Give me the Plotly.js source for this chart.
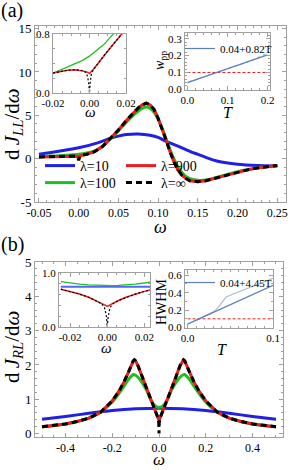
<!DOCTYPE html>
<html><head><meta charset="utf-8">
<script src="https://cdn.plot.ly/plotly-3.0.1.min.js"></script>
<style>html,body{margin:0;padding:0;background:#fff}#c{width:291px;height:470px}</style>
</head><body><div id="c"></div>
<script>
// ---------- Panel (a) main: dJ_LL/dω ----------
const wA10 = [-0.05,-0.025,0,0.025,0.04,0.05,0.06,0.075,0.09,0.1,0.11,0.125,0.14,0.15,0.16,0.175,0.2,0.225,0.25];
const jA10 = [0.5,0.85,1.25,1.85,2.35,2.6,2.78,2.85,2.7,2.45,2.0,1.45,0.85,0.5,0.15,-0.3,-0.65,-0.8,-0.85];
const wA100 = [-0.05,-0.04,-0.03,-0.02,-0.01,0,0.01,0.02,0.03,0.04,0.05,0.06,0.07,0.075,0.08,0.085,0.09,0.095,0.1,0.105,0.11,0.115,0.12,0.125,0.13,0.135,0.14,0.15,0.16,0.17,0.18,0.19,0.2,0.21,0.22,0.23,0.24,0.25];
const jA100 = [0.25,0.28,0.32,0.36,0.42,0.5,0.65,0.9,1.45,2.3,3.2,4.2,5.1,5.5,5.8,5.95,5.8,5.35,4.55,3.5,2.3,1.05,-0.05,-0.95,-1.6,-2.05,-2.3,-2.5,-2.45,-2.25,-2.0,-1.75,-1.5,-1.3,-1.15,-1.0,-0.9,-0.8];
const wAinf = [-0.05,-0.04,-0.03,-0.02,-0.01,-0.004,-0.0015,0,0.0015,0.004,0.01,0.02,0.03,0.04,0.05,0.06,0.07,0.075,0.08,0.085,0.09,0.095,0.1,0.105,0.11,0.115,0.12,0.125,0.13,0.135,0.14,0.15,0.16,0.17,0.18,0.19,0.2,0.21,0.22,0.23,0.24,0.25];
const jA900 = [0.2,0.22,0.25,0.28,0.3,0.3,0.28,0.22,0.28,0.38,0.5,0.8,1.4,2.3,3.3,4.4,5.4,5.85,6.2,6.4,6.2,5.65,4.65,3.45,2.15,0.8,-0.4,-1.3,-1.9,-2.3,-2.55,-2.65,-2.55,-2.3,-2.05,-1.8,-1.55,-1.35,-1.15,-1.0,-0.9,-0.8];
const jAinf = [0.2,0.22,0.25,0.28,0.3,0.3,0.2,-0.2,0.25,0.38,0.5,0.8,1.4,2.3,3.3,4.4,5.4,5.85,6.2,6.4,6.2,5.65,4.65,3.45,2.15,0.8,-0.4,-1.3,-1.9,-2.3,-2.55,-2.65,-2.55,-2.3,-2.05,-1.8,-1.55,-1.35,-1.15,-1.0,-0.9,-0.8];

// ---------- Inset (a) left: zoom near ω = 0 ----------
const wI1 = [-0.02,-0.016,-0.012,-0.008,-0.004,-0.002,-0.001,-0.0004,0,0.0004,0.001,0.002,0.004,0.008,0.012,0.016,0.018,0.02];
const jI1_100 = [0.27,0.31,0.35,0.39,0.44,0.47,0.48,0.49,0.5,0.51,0.52,0.54,0.58,0.66,0.76,0.88,0.94,1.0];
const jI1_900 = [0.27,0.29,0.31,0.315,0.305,0.29,0.28,0.27,0.265,0.275,0.29,0.32,0.38,0.51,0.63,0.75,0.81,0.87];
const jI1_inf = [0.27,0.29,0.31,0.315,0.305,0.28,0.22,0.12,0.0,0.14,0.26,0.31,0.38,0.51,0.63,0.75,0.81,0.87];

// ---------- Inset (a) right: w_pp vs T ----------
const tFitA = [0,0.2];
const wFitA = [0.04,0.204];
const tDatA = [0.005,0.02,0.04,0.06,0.08,0.1,0.12,0.14,0.16,0.17,0.18,0.19,0.2];
const wDatA = [0.044,0.056,0.073,0.089,0.106,0.122,0.138,0.155,0.171,0.183,0.195,0.204,0.214];
const tRefA = [0,0.2];
const wRefA = [0.1,0.1];

// ---------- Panel (b) main: dJ_RL/dω ----------
const wB10 = [-0.5,-0.4,-0.3,-0.2,-0.1,0,0.1,0.2,0.3,0.4,0.5];
const jB10 = [0.42,0.5,0.59,0.67,0.72,0.74,0.72,0.67,0.59,0.5,0.42];
const wB100 = [-0.5,-0.45,-0.4,-0.35,-0.3,-0.25,-0.2,-0.17,-0.15,-0.13,-0.12,-0.11,-0.1,-0.09,-0.08,-0.07,-0.06,-0.05,-0.04,-0.03,-0.02,-0.01,0,0.01,0.02,0.03,0.04,0.05,0.06,0.07,0.08,0.09,0.1,0.11,0.12,0.13,0.15,0.17,0.2,0.25,0.3,0.35,0.4,0.45,0.5];
const jB100 = [0.2,0.23,0.28,0.35,0.45,0.62,0.92,1.18,1.38,1.58,1.66,1.72,1.7,1.64,1.56,1.46,1.35,1.22,1.05,0.92,0.83,0.78,0.766,0.78,0.83,0.92,1.05,1.22,1.35,1.46,1.56,1.64,1.7,1.72,1.66,1.58,1.38,1.18,0.92,0.62,0.45,0.35,0.28,0.23,0.2];
const wBinf = [-0.5,-0.45,-0.4,-0.35,-0.3,-0.25,-0.2,-0.17,-0.15,-0.13,-0.12,-0.11,-0.105,-0.1,-0.09,-0.08,-0.07,-0.06,-0.05,-0.04,-0.03,-0.02,-0.01,-0.004,-0.001,0,0.001,0.004,0.01,0.02,0.03,0.04,0.05,0.06,0.07,0.08,0.09,0.1,0.105,0.11,0.12,0.13,0.15,0.17,0.2,0.25,0.3,0.35,0.4,0.45,0.5];
const jB900 = [0.2,0.23,0.28,0.35,0.45,0.62,0.95,1.25,1.5,1.8,1.98,2.12,2.15,2.12,1.98,1.8,1.6,1.42,1.24,1.07,0.9,0.73,0.56,0.45,0.39,0.38,0.39,0.45,0.56,0.73,0.9,1.07,1.24,1.42,1.6,1.8,1.98,2.12,2.15,2.12,1.98,1.8,1.5,1.25,0.95,0.62,0.45,0.35,0.28,0.23,0.2];
const jBinf = [0.2,0.23,0.28,0.35,0.45,0.62,0.95,1.25,1.5,1.8,1.98,2.12,2.15,2.12,1.98,1.8,1.6,1.42,1.24,1.07,0.9,0.73,0.56,0.45,0.3,0.0,0.3,0.45,0.56,0.73,0.9,1.07,1.24,1.42,1.6,1.8,1.98,2.12,2.15,2.12,1.98,1.8,1.5,1.25,0.95,0.62,0.45,0.35,0.28,0.23,0.2];

// ---------- Inset (b) left ----------
const wI3 = [-0.025,-0.02,-0.015,-0.01,-0.006,-0.003,-0.0015,-0.0005,0,0.0005,0.0015,0.003,0.006,0.01,0.015,0.02,0.025];
const jI3_10 = [0.745,0.745,0.745,0.745,0.745,0.745,0.745,0.745,0.745,0.745,0.745,0.745,0.745,0.745,0.745,0.745,0.745];
const jI3_100 = [0.84,0.815,0.795,0.78,0.772,0.768,0.767,0.766,0.766,0.766,0.767,0.768,0.772,0.78,0.795,0.815,0.84];
const jI3_900 = [0.7,0.66,0.61,0.55,0.49,0.44,0.41,0.39,0.385,0.39,0.41,0.44,0.49,0.55,0.61,0.66,0.7];
const jI3_inf = [0.7,0.66,0.61,0.55,0.49,0.43,0.36,0.2,0.0,0.2,0.36,0.43,0.49,0.55,0.61,0.66,0.7];

// ---------- Inset (b) right: HWHM vs T ----------
const tFitB = [0,0.1];
const hFitB = [0.04,0.485];
const tDatB = [0.01,0.02,0.03,0.035,0.04,0.045,0.06,0.08,0.1];
const hDatB = [0.085,0.13,0.18,0.22,0.28,0.35,0.41,0.49,0.565];
const tRefB = [0,0.1];
const hRefB = [0.1,0.1];

// ---------- tick labels ----------
const tickAx = [-0.05,0,0.05,0.1,0.15,0.2,0.25], textAx = ['-0.05','0.00','0.05','0.10','0.15','0.20','0.25'];
const tickAy = [-5,0,5,10,15], textAy = ['-5','0','5','10','15'];
const tickI1x = [-0.02,0,0.02], textI1x = ['-0.02','0.00','0.02'];
const tickI1y = [0,0.8], textI1y = ['0.0','0.8'];
const tickI2x = [0,0.1,0.2], textI2x = ['0.0','0.1','0.2'];
const tickI2y = [0,0.1,0.2,0.3], textI2y = ['0.0','0.1','0.2','0.3'];
const tickBx = [-0.4,-0.2,0,0.2,0.4], textBx = ['-0.4','-0.2','0.0','0.2','0.4'];
const tickBy = [0,1,2,3,4,5], textBy = ['0','1','2','3','4','5'];
const tickI3x = [-0.02,0,0.02], textI3x = ['-0.02','0.00','0.02'];
const tickI3y = [0,1], textI3y = ['0.0','1.0'];
const tickI4x = [0,0.1], textI4x = ['0.0','0.1'];
const tickI4y = [0,0.2,0.4,0.6], textI4y = ['0.0','0.2','0.4','0.6'];

const BLUE='#1f1fe6', GREEN='#1fbf1f', RED='#ee1c1c', BLACK='#000000';
const FITB='#5b7fbf', DATB='#a9bde0';
const SERIF='Liberation Serif, Times New Roman, serif';
const FR='#a0a0a0';

function ax(domain, anchor, range, tv, tt, minorDt, fs){
  return {domain, anchor, range, tickmode:'array', tickvals:tv, ticktext:tt,
    showline:true, linecolor:FR, linewidth:1, mirror:'ticks', ticks:'inside', ticklen:4, tickcolor:FR,
    showgrid:false, zeroline:false, tickfont:{family:SERIF,size:fs,color:'#000'},
    minor:{tickmode:'linear', tick0:0, dtick:minorDt, ticks:'inside', ticklen:2, tickcolor:FR, showgrid:false}};
}
function px(x){return x/291;}
function py(y){return 1-y/470;}

const traces = [
  // main a
  {x:wA10,y:jA10,xaxis:'x',yaxis:'y',mode:'lines',name:'λ=10',line:{color:BLUE,width:3,shape:'spline',smoothing:0.8},legend:'legend',legendrank:1},
  {x:wA100,y:jA100,xaxis:'x',yaxis:'y',mode:'lines',name:'λ=100',line:{color:GREEN,width:3,shape:'spline',smoothing:0.6},legend:'legend4',legendrank:1},
  {x:wAinf,y:jA900,xaxis:'x',yaxis:'y',mode:'lines',name:'λ=900',line:{color:RED,width:3},legend:'legend',legendrank:2},
  {x:wAinf,y:jAinf,xaxis:'x',yaxis:'y',mode:'lines',name:'λ=∞',line:{color:BLACK,width:3,dash:'6px,4px'},legend:'legend4',legendrank:2},
  // inset a1
  {x:wI1,y:jI1_100,xaxis:'x2',yaxis:'y2',mode:'lines',line:{color:GREEN,width:1.3},showlegend:false},
  {x:wI1,y:jI1_900,xaxis:'x2',yaxis:'y2',mode:'lines',line:{color:RED,width:1.5},showlegend:false},
  {x:wI1,y:jI1_inf,xaxis:'x2',yaxis:'y2',mode:'lines',line:{color:BLACK,width:1.2,dash:'2px,2px'},showlegend:false},
  // inset a2
  {x:tDatA,y:wDatA,xaxis:'x3',yaxis:'y3',mode:'lines',line:{color:DATB,width:1.2,dash:'dot'},showlegend:false},
  {x:tRefA,y:wRefA,xaxis:'x3',yaxis:'y3',mode:'lines',line:{color:RED,width:1,dash:'3px,2px'},showlegend:false},
  {x:tFitA,y:wFitA,xaxis:'x3',yaxis:'y3',mode:'lines',name:'0.04+0.82T',line:{color:FITB,width:1.2},legend:'legend2'},
  // main b
  {x:wB10,y:jB10,xaxis:'x4',yaxis:'y4',mode:'lines',line:{color:BLUE,width:3,shape:'spline',smoothing:0.8},showlegend:false},
  {x:wB100,y:jB100,xaxis:'x4',yaxis:'y4',mode:'lines',line:{color:GREEN,width:3,shape:'spline',smoothing:0.5},showlegend:false},
  {x:wBinf,y:jB900,xaxis:'x4',yaxis:'y4',mode:'lines',line:{color:RED,width:3},showlegend:false},
  {x:wBinf,y:jBinf,xaxis:'x4',yaxis:'y4',mode:'lines',line:{color:BLACK,width:3,dash:'6px,4px'},showlegend:false},
  // inset b1
  {x:wI3,y:jI3_10,xaxis:'x5',yaxis:'y5',mode:'lines',line:{color:'#5566ff',width:2},showlegend:false},
  {x:wI3,y:jI3_100,xaxis:'x5',yaxis:'y5',mode:'lines',line:{color:GREEN,width:1.3},showlegend:false},
  {x:wI3,y:jI3_900,xaxis:'x5',yaxis:'y5',mode:'lines',line:{color:RED,width:1.5},showlegend:false},
  {x:wI3,y:jI3_inf,xaxis:'x5',yaxis:'y5',mode:'lines',line:{color:BLACK,width:1.2,dash:'2px,2px'},showlegend:false},
  // inset b2
  {x:tDatB,y:hDatB,xaxis:'x6',yaxis:'y6',mode:'lines',line:{color:DATB,width:1.2},showlegend:false},
  {x:tRefB,y:hRefB,xaxis:'x6',yaxis:'y6',mode:'lines',line:{color:RED,width:1,dash:'3px,2px'},showlegend:false},
  {x:tFitB,y:hFitB,xaxis:'x6',yaxis:'y6',mode:'lines',name:'0.04+4.45T',line:{color:FITB,width:1.2},legend:'legend3'}
];

const legBase = {orientation:'h', xanchor:'left', yanchor:'top', bgcolor:'rgba(0,0,0,0)', borderwidth:0,
  font:{family:SERIF,size:14,color:'#000'}, entrywidthmode:'pixels', entrywidth:36, itemwidth:30, tracegroupgap:0};
const legSmall = {orientation:'h', xanchor:'left', yanchor:'top', bgcolor:'rgba(0,0,0,0)', borderwidth:0,
  font:{family:SERIF,size:11,color:'#000'}, itemwidth:30};

function A(text, x, y, size, angle){
  return {text, x:px(x), y:py(y), xref:'paper', yref:'paper', xanchor:'center', yanchor:'middle',
    showarrow:false, textangle:angle||0, font:{family:SERIF,size,color:'#000'}};
}

const layout = {
  width:291, height:470, margin:{l:0,r:0,t:0,b:0},
  paper_bgcolor:'#fff', plot_bgcolor:'#fff', showlegend:true,
  xaxis: ax([px(35),px(286)],'y',[-0.055,0.261],tickAx,textAx,0.01,12),
  yaxis: ax([py(202),py(26)],'x',[-5,15.3],tickAy,textAy,1,13),
  xaxis2: ax([px(53),px(126)],'y2',[-0.02,0.02],tickI1x,textI1x,0.005,11),
  yaxis2: ax([py(93),py(34)],'x2',[0,0.8],tickI1y,textI1y,0.2,11),
  xaxis3: ax([px(185),px(270)],'y3',[-0.006,0.206],tickI2x,textI2x,0.02,11),
  yaxis3: ax([py(90),py(33)],'x3',[-0.004,0.334],tickI2y,textI2y,0.02,11),
  xaxis4: ax([px(35),px(283)],'y4',[-0.53,0.53],tickBx,textBx,0.05,12),
  yaxis4: ax([py(437),py(262)],'x4',[-0.1,5],tickBy,textBy,0.2,13),
  xaxis5: ax([px(59),px(150)],'y5',[-0.026,0.023],tickI3x,textI3x,0.005,11),
  yaxis5: ax([py(327),py(273)],'x5',[0,1.0],tickI3y,textI3y,0.2,11),
  xaxis6: ax([px(185),px(273)],'y6',[-0.003,0.1],tickI4x,textI4x,0.01,11),
  yaxis6: ax([py(328),py(270)],'x6',[-0.005,0.66],tickI4y,textI4y,0.1,11),
  legend: Object.assign({}, legBase, {x:px(40), y:py(150)}),
  legend4: Object.assign({}, legBase, {x:px(40), y:py(167)}),
  legend2: Object.assign({}, legSmall, {x:px(180), y:py(34)}),
  legend3: Object.assign({}, legSmall, {x:px(180), y:py(268)}),
  annotations: [
    A('(a)', 12, 10, 20),
    A('(b)', 12, 244, 20),
    A('d\u2009<i>J</i><sub><i>LL</i></sub>/d<i>ω</i>', 13, 124, 21, -90),
    A('d\u2009<i>J</i><sub><i>RL</i></sub>/d<i>ω</i>', 13, 347, 21, -90),
    A('<i>ω</i>', 160, 227, 18),
    A('<i>ω</i>', 159, 459, 17),
    A('<i>ω</i>', 90, 112, 15),
    A('<i>T</i>', 228, 113, 16),
    A('<i>w</i><sub>pp</sub>', 160, 61, 14, -90),
    A('<i>ω</i>', 106, 348, 15),
    A('<i>T</i>', 222, 349, 16),
    A('HWHM', 161, 302, 14, -90)
  ]
};

Plotly.newPlot('c', traces, layout, {staticPlot:true, displayModeBar:false});
</script></body></html>
